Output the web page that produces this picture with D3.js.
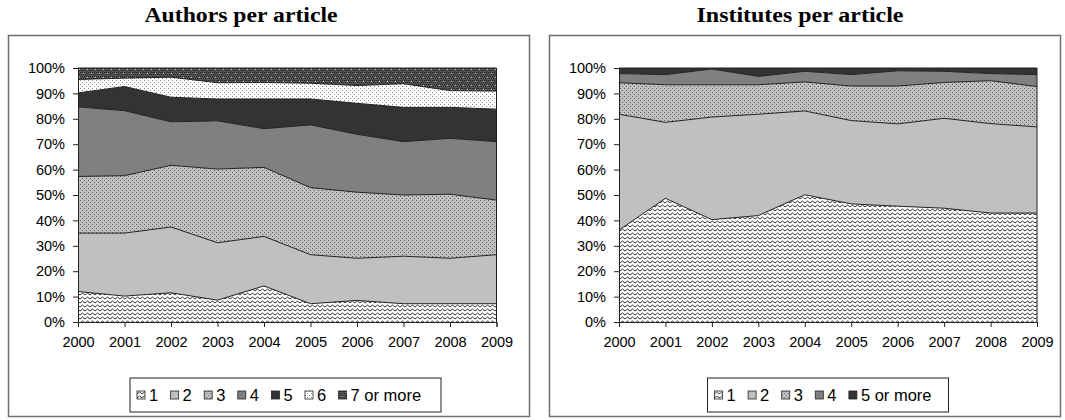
<!DOCTYPE html>
<html>
<head>
<meta charset="utf-8">
<script src="https://cdn.jsdelivr.net/npm/d3@7"></script>
<style>
  body { margin: 0; background: #fff; }
  svg { display: block; }
</style>
</head>
<body>
<div id="chart"></div>
<script>
// data (share of articles, %)
const years = ["2000", "2001", "2002", "2003", "2004", "2005", "2006", "2007", "2008", "2009"];
const yTicks = [0, 0.1, 0.2, 0.3, 0.4, 0.5, 0.6, 0.7, 0.8, 0.9, 1];

const authorKeys = ["1", "2", "3", "4", "5", "6", "7 or more"];
const authors1 = [12.0, 10.2, 11.5, 8.6, 14.2, 7.2, 8.5, 7.2, 7.2, 7.2];
const authors2 = [23.0, 24.8, 25.9, 22.6, 19.5, 19.3, 16.6, 18.7, 17.9, 19.3];
const authors3 = [22.3, 22.6, 24.3, 29.0, 27.2, 26.4, 26.0, 24.1, 25.2, 21.5];
const authors4 = [27.4, 25.6, 17.1, 19.0, 15.2, 24.7, 22.8, 21.0, 22.0, 23.0];
const authors5 = [5.5, 9.5, 9.7, 8.6, 11.7, 10.2, 12.2, 13.5, 12.2, 12.8];
const authors6 = [5.3, 3.3, 7.9, 6.4, 6.5, 6.2, 7.0, 9.3, 6.6, 7.1];
const authors7 = [4.5, 4.0, 3.6, 5.8, 5.7, 6.0, 6.9, 6.2, 8.9, 9.1];

const instKeys = ["1", "2", "3", "4", "5 or more"];
const inst1 = [36.2, 48.7, 40.3, 41.9, 50.1, 46.5, 45.6, 44.8, 42.9, 42.9];
const inst2 = [45.6, 29.9, 40.4, 39.9, 33.0, 32.8, 32.4, 35.4, 35.2, 33.9];
const inst3 = [12.4, 14.8, 12.7, 11.6, 11.4, 13.6, 14.9, 14.1, 16.9, 15.9];
const inst4 = [3.6, 4.0, 6.2, 3.3, 4.2, 4.5, 6.0, 4.4, 2.8, 4.7];
const inst5 = [2.2, 2.6, 0.4, 3.3, 1.3, 2.6, 1.1, 1.3, 2.2, 2.6];

const authorSeries = [authors1, authors2, authors3, authors4, authors5, authors6, authors7];
const instSeries = [inst1, inst2, inst3, inst4, inst5];

const svg = d3.select("#chart").append("svg")
  .attr("width", 1065)
  .attr("height", 420);

// fill patterns like the old excel ones
const defs = svg.append("defs");

const zig = defs.append("pattern").attr("id", "p-zig")
  .attr("patternUnits", "userSpaceOnUse").attr("width", 5).attr("height", 4);
zig.append("rect").attr("width", 5).attr("height", 4).attr("fill", "#fff");
zig.append("path").attr("d", "M0,3 L2.5,1 L5,3").attr("fill", "none")
  .attr("stroke", "#333").attr("stroke-width", 1);

const dots = defs.append("pattern").attr("id", "p-dots")
  .attr("patternUnits", "userSpaceOnUse").attr("width", 4).attr("height", 4);
dots.append("rect").attr("width", 4).attr("height", 4).attr("fill", "#c0c0c0");
dots.append("rect").attr("x", 0).attr("y", 0).attr("width", 1).attr("height", 1).attr("fill", "#606060");
dots.append("rect").attr("x", 2).attr("y", 2).attr("width", 1).attr("height", 1).attr("fill", "#606060");

const light = defs.append("pattern").attr("id", "p-light")
  .attr("patternUnits", "userSpaceOnUse").attr("width", 4).attr("height", 4);
light.append("rect").attr("width", 4).attr("height", 4).attr("fill", "#fff");
light.append("rect").attr("x", 0).attr("y", 0).attr("width", 1).attr("height", 1).attr("fill", "#8a8a8a");
light.append("rect").attr("x", 2).attr("y", 2).attr("width", 1).attr("height", 1).attr("fill", "#8a8a8a");

const dark = defs.append("pattern").attr("id", "p-dark")
  .attr("patternUnits", "userSpaceOnUse").attr("width", 8).attr("height", 8);
dark.append("rect").attr("width", 8).attr("height", 8).attr("fill", "#555");
[[0, 0], [2, 0], [4, 0], [6, 0], [1, 2], [3, 2], [5, 2], [7, 2], [0, 4], [2, 4], [4, 4], [6, 4], [1, 6], [3, 6], [5, 6], [7, 6]]
  .forEach(([px, py]) => dark.append("rect").attr("x", px).attr("y", py)
    .attr("width", 1).attr("height", 1).attr("fill", "#222"));
[[3, 1], [7, 5]].forEach(([px, py]) => {
  dark.append("rect").attr("x", px).attr("y", py).attr("width", 1).attr("height", 1).attr("fill", "#ddd");
});

const authorFills = ["url(#p-zig)", "#c0c0c0", "url(#p-dots)", "#808080", "#333333", "url(#p-light)", "url(#p-dark)"];
const instFills = ["url(#p-zig)", "#c0c0c0", "url(#p-dots)", "#808080", "#333333"];

function drawPanel(cfg) {
  const { box, plot, title, titleX, titleW, keys, series, fills, legend } = cfg;

  // outer frame
  svg.append("rect")
    .attr("x", box.x).attr("y", box.y)
    .attr("width", box.w).attr("height", box.h)
    .attr("fill", "#fff").attr("stroke", "#6e6e6e").attr("stroke-width", 1.5);

  svg.append("text")
    .attr("x", titleX - titleW / 2).attr("y", 22)
    .attr("textLength", titleW)
    .attr("lengthAdjust", "spacingAndGlyphs")
    .style("font-family", "'Liberation Serif', 'Times New Roman', serif")
    .style("font-weight", "bold")
    .style("font-size", "20px")
    .text(title);

  const x = d3.scalePoint().domain(years).range([plot.x0, plot.x1]);
  const y = d3.scaleLinear().domain([0, 1]).range([plot.y1, plot.y0]);

  const rows = years.map((yr, i) => {
    const r = { year: yr };
    keys.forEach((k, j) => { r[k] = series[j][i] / 100; });
    return r;
  });
  const stacked = d3.stack().keys(keys)(rows);

  const area = d3.area()
    .x(d => x(d.data.year))
    .y0(d => y(d[0]))
    .y1(d => y(d[1]));
  const topLine = d3.line()
    .x(d => x(d.data.year))
    .y(d => y(d[1]));

  const g = svg.append("g");
  g.selectAll("path.area")
    .data(stacked)
    .join("path")
    .attr("class", "area")
    .attr("d", area)
    .attr("fill", (d, i) => fills[i]);

  g.selectAll("path.edge")
    .data(stacked)
    .join("path")
    .attr("class", "edge")
    .attr("d", topLine)
    .attr("fill", "none")
    .attr("stroke", "#222")
    .attr("stroke-width", 1);

  // right edge of the plot
  g.append("line")
    .attr("x1", plot.x1).attr("x2", plot.x1)
    .attr("y1", plot.y0).attr("y2", plot.y1)
    .attr("stroke", "#222");

  const yAxis = svg.append("g")
    .attr("transform", `translate(${plot.x0},0)`)
    .call(d3.axisLeft(y).tickValues(yTicks).tickFormat(d3.format(".0%")).tickSize(5).tickPadding(8));
  const xAxis = svg.append("g")
    .attr("transform", `translate(0,${plot.y1})`)
    .call(d3.axisBottom(x).tickSize(5).tickPadding(10));

  [yAxis, xAxis].forEach(ax => {
    ax.select(".domain").attr("stroke", "#222");
    ax.selectAll(".tick line").attr("stroke", "#222");
    ax.selectAll("text")
      .style("font-family", "'Liberation Sans', Arial, sans-serif")
      .style("font-size", "14.5px")
      .attr("fill", "#000");
  });

  // legend
  svg.append("rect")
    .attr("x", legend.x).attr("y", legend.y)
    .attr("width", legend.w).attr("height", legend.h)
    .attr("fill", "#fff").attr("stroke", "#222").attr("stroke-width", 1);

  const lg = svg.append("g")
    .attr("transform", `translate(${legend.x + 7},${legend.y + legend.h / 2})`);
  keys.forEach((k, i) => {
    const item = lg.append("g").attr("transform", `translate(${i * 33.6},0)`);
    item.append("rect")
      .attr("x", 0).attr("y", -4)
      .attr("width", 8).attr("height", 8)
      .attr("fill", fills[i])
      .attr("stroke", "#222").attr("stroke-width", 0.8);
    item.append("text")
      .attr("x", 12).attr("y", 6)
      .style("font-family", "'Liberation Sans', Arial, sans-serif")
      .style("font-size", "16.5px")
      .text(k);
  });
}

drawPanel({
  box: { x: 8.5, y: 35.5, w: 521, h: 381 },
  plot: { x0: 78, x1: 496.5, y0: 68, y1: 322 },
  title: "Authors per article",
  titleX: 241,
  titleW: 193,
  keys: authorKeys,
  series: authorSeries,
  fills: authorFills,
  legend: { x: 130, y: 378, w: 311, h: 34 }
});

drawPanel({
  box: { x: 549.5, y: 35.5, w: 511, h: 381 },
  plot: { x0: 619, x1: 1037, y0: 68, y1: 322 },
  title: "Institutes per article",
  titleX: 800,
  titleW: 207,
  keys: instKeys,
  series: instSeries,
  fills: instFills,
  legend: { x: 707.5, y: 378, w: 241, h: 34 }
});
</script>
</body>
</html>
